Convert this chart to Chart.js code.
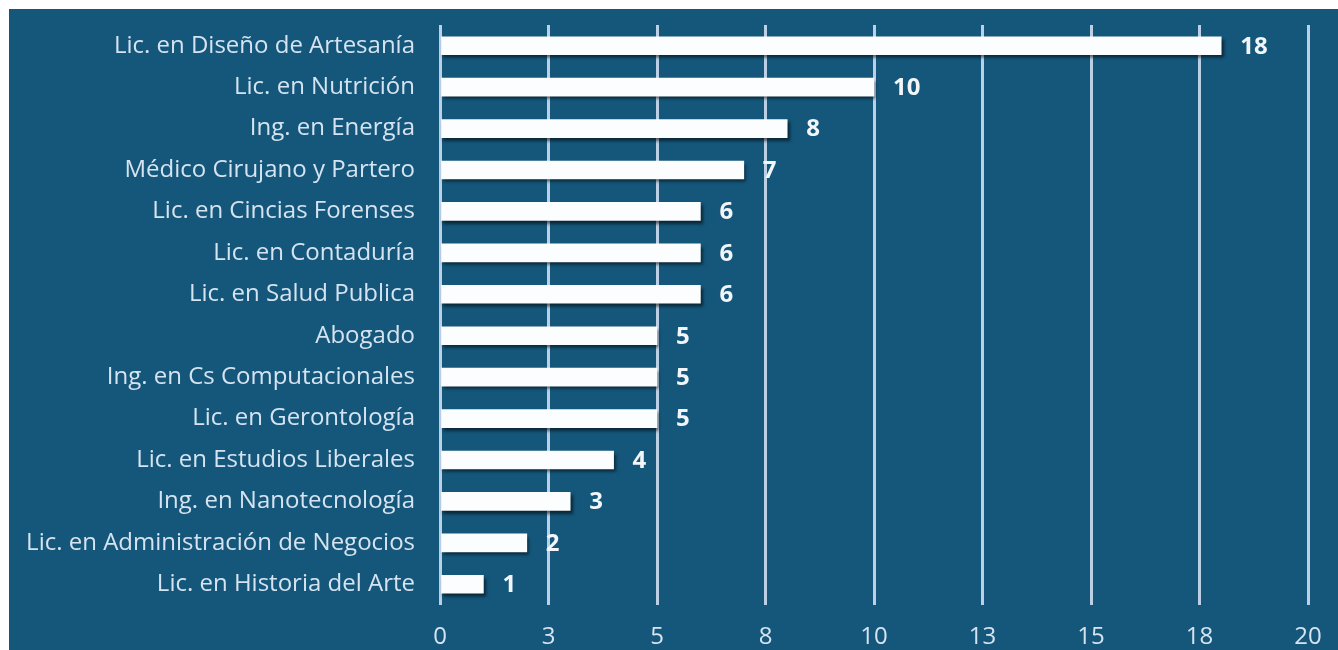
<!DOCTYPE html>
<html>
<head>
<meta charset="utf-8">
<script src="https://cdn.jsdelivr.net/npm/chart.js@4/dist/chart.umd.min.js"></script>
<style>
html,body{margin:0;padding:0;background:#ffffff;}
#wrap{width:1338px;height:650px;position:relative;}
</style>
</head>
<body>
<div id="wrap"><canvas id="c" width="1338" height="650"></canvas></div>
<script>
const categories = [
  "Lic. en Diseño de Artesanía",
  "Lic. en Nutrición",
  "Ing. en Energía",
  "Médico Cirujano y Partero",
  "Lic. en Cincias Forenses",
  "Lic. en Contaduría",
  "Lic. en Salud Publica",
  "Abogado",
  "Ing. en Cs Computacionales",
  "Lic. en Gerontología",
  "Lic. en Estudios Liberales",
  "Ing. en Nanotecnología",
  "Lic. en Administración de Negocios",
  "Lic. en Historia del Arte"
];
const values = [18, 10, 8, 7, 6, 6, 6, 5, 5, 5, 4, 3, 2, 1];
const axisMin = 0, axisMax = 20, axisStep = 2.5;

const FONT = "'Open Sans', sans-serif";
const BG = '#14577b';
const TXT = '#d6e3f0';

const bgPlugin = {
  id: 'bg',
  beforeDraw(chart) {
    const ctx = chart.ctx;
    ctx.save();
    ctx.fillStyle = '#ffffff';
    ctx.fillRect(0, 0, chart.width, chart.height);
    ctx.fillStyle = BG;
    ctx.fillRect(9, 9, chart.width - 9, chart.height - 9);
    ctx.restore();
  }
};

const shadowPlugin = {
  id: 'shadow',
  beforeDatasetsDraw(chart) {
    const ctx = chart.ctx;
    ctx.save();
    ctx.shadowColor = 'rgba(0,0,0,0.55)';
    ctx.shadowBlur = 3;
    ctx.shadowOffsetX = 2;
    ctx.shadowOffsetY = 3;
  },
  afterDatasetsDraw(chart) {
    chart.ctx.restore();
  }
};

const labelPlugin = {
  id: 'vlabels',
  afterDatasetsDraw(chart) {
    const ctx = chart.ctx;
    const meta = chart.getDatasetMeta(0);
    ctx.save();
    ctx.font = "bold 24px " + FONT;
    ctx.fillStyle = '#f2f6fa';
    ctx.textAlign = 'left';
    ctx.textBaseline = 'middle';
    meta.data.forEach((bar, i) => {
      ctx.fillText(String(values[i]), bar.x + 19, bar.y + 1);
    });
    ctx.restore();
  }
};

new Chart(document.getElementById('c'), {
  type: 'bar',
  data: {
    labels: categories,
    datasets: [{
      data: values,
      backgroundColor: '#fcfdfe',
      borderWidth: 0,
      barThickness: 18
    }]
  },
  options: {
    indexAxis: 'y',
    responsive: false,
    animation: false,
    events: [],
    layout: { padding: { top: 25, right: 30, left: 0, bottom: 0 } },
    plugins: { legend: { display: false }, tooltip: { enabled: false } },
    scales: {
      x: {
        min: axisMin, max: axisMax,
        border: { display: false },
        grid: { color: 'rgba(196,215,235,0.95)', lineWidth: 3, drawTicks: false },
        ticks: {
          stepSize: axisStep,
          padding: 18,
          color: TXT,
          font: { family: FONT, size: 24 },
          callback: v => String(Math.round(v))
        },
        afterFit(s) { s.height = 45; s.paddingLeft = 0; s.paddingRight = 0; }
      },
      y: {
        border: { display: false },
        grid: { display: false, drawTicks: false },
        ticks: {
          padding: 25,
          color: TXT,
          font: { family: FONT, size: 24 },
          autoSkip: false
        },
        afterFit(s) { s.width = 440; s.paddingTop = 0; s.paddingBottom = 0; }
      }
    }
  },
  plugins: [bgPlugin, shadowPlugin, labelPlugin]
});
</script>
</body>
</html>
